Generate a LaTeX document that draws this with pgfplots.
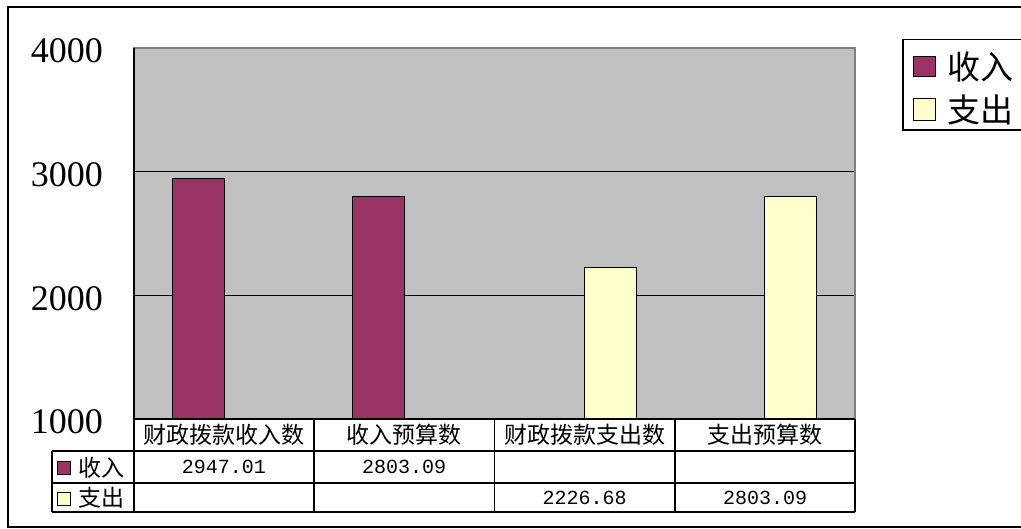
\documentclass[border=0pt]{standalone}
\usepackage{fontspec}
\setmainfont{Liberation Serif}
\newfontfamily\cjk{Noto Sans CJK SC}
\newfontfamily\mono{Liberation Mono}
\usepackage{pgfplots}
\pgfplotsset{compat=1.18}
\definecolor{inc}{HTML}{993366}
\definecolor{exq}{HTML}{FFFFCC}
\definecolor{plotbg}{HTML}{C0C0C0}
\begin{document}
\begin{tikzpicture}
\begin{axis}[
 at={(67pt,-209.5pt)}, anchor=south west,
 scale only axis, width=360.5pt, height=185.5pt,
 xmin=-0.5, xmax=3.5, ymin=1000, ymax=4000,
 ytick={1000,2000,3000,4000}, xtick=\empty,
 ymajorgrids, grid style={black, line width=0.6pt},
 axis background/.style={fill=plotbg},
 axis line style={draw=gray, line width=0.6pt},
 tick style={black, line width=0.6pt}, major tick length=6pt, tick align=inside, ytick pos=left,
 yticklabel style={font=\fontsize{18}{18}\selectfont, xshift=-12pt, yshift=-1.5pt},
 /pgf/number format/assume math mode=true,
 /pgf/number format/1000 sep={},
 ybar, bar width=26pt,
]
\addplot[fill=inc, draw=black, line width=0.5pt, bar shift=-13pt] coordinates {(0,2947.01) (1,2803.09)};
\addplot[fill=exq, draw=black, line width=0.5pt, bar shift=13pt] coordinates {(2,2226.68) (3,2803.09)};
\end{axis}
\begin{scope}[x=0.5pt,y=-0.5pt]
\path[use as bounding box] (0,0) rectangle (1021,529);
\draw[line width=0.75pt] (1030,7)--(8,7)--(8,527)--(1030,527);
\draw[line width=0.75pt] (134,48)--(134,419);
% table
\begin{scope}[line width=0.75pt]
\draw (134,419)--(855,419);
\draw (52,451)--(855,451);
\draw (52,483)--(855,483);
\draw (52,512)--(855,512);
\foreach \x in {134,314,494.5,675,855} {\draw (\x,419)--(\x,512);}
\draw (52,451)--(52,512);
\end{scope}
\begin{scope}[every node/.style={inner sep=0pt, font=\cjk\fontsize{11.5}{11.5}\selectfont}]
\node at (224,435) {财政拨款收入数};
\node at (404,435) {收入预算数};
\node at (584.5,435) {财政拨款支出数};
\node at (765,435) {支出预算数};
\node[anchor=west] at (78,467.5) {收入};
\node[anchor=west] at (78,498) {支出};
\end{scope}
\begin{scope}[every node/.style={inner sep=0pt, font=\mono\fontsize{10}{10}\selectfont}]
\node at (224,467) {2947.01};
\node at (404,467) {2803.09};
\node at (584.5,498) {2226.68};
\node at (765,498) {2803.09};
\end{scope}
\draw[fill=inc, line width=0.5pt] (57,461) rectangle (70,474);
\draw[fill=exq, line width=0.5pt] (57,492) rectangle (70,505);
% legend
\draw[line width=0.6pt] (1030,39.5)--(903,39.5)--(903,130)--(1030,130);
\draw[fill=inc, line width=0.5pt] (913,57) rectangle (935,77);
\draw[fill=exq, line width=0.5pt] (913,99) rectangle (935,121);
\begin{scope}[every node/.style={inner sep=0pt, anchor=west, font=\cjk\fontsize{16.5}{16.5}\selectfont}]
\node at (947,67) {收入};
\node at (947,110) {支出};
\end{scope}
\end{scope}
\end{tikzpicture}
\end{document}
